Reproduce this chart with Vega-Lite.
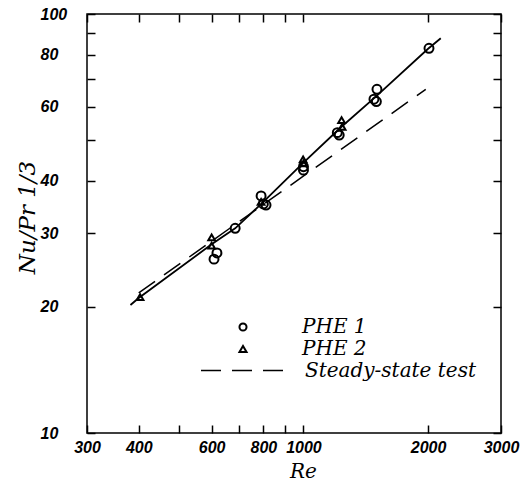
{
  "$schema": "https://vega.github.io/schema/vega-lite/v6.json",
  "width": 414,
  "height": 419,
  "autosize": "none",
  "padding": {"left": 87, "top": 14, "right": 29, "bottom": 48},
  "background": "white",
  "config": {
    "view": {"stroke": "black", "strokeWidth": 1.5},
    "axis": {
      "domain": false,
      "grid": false,
      "tickColor": "black",
      "tickWidth": 1.5,
      "tickSize": -8,
      "labelColor": "black",
      "labelFont": "Liberation Sans",
      "labelFontStyle": "italic",
      "labelFontWeight": "bold",
      "labelFontSize": 16,
      "titleColor": "black",
      "titleFont": "DejaVu Serif",
      "titleFontStyle": "italic",
      "titleFontWeight": "normal",
      "titleFontSize": 20
    },
    "legend": {
      "labelFont": "DejaVu Serif",
      "labelFontStyle": "italic",
      "labelFontSize": 20,
      "labelColor": "black",
      "labelLimit": 400,
      "padding": 0,
      "rowPadding": 2
    }
  },
  "datasets": {
    "pts": [
      {"Re": 2010, "Nu": 82.8, "pset": "PHE 1"},
      {"Re": 1505, "Nu": 66.1, "pset": "PHE 1"},
      {"Re": 1480, "Nu": 62.6, "pset": "PHE 1"},
      {"Re": 1500, "Nu": 61.8, "pset": "PHE 1"},
      {"Re": 1207, "Nu": 52.1, "pset": "PHE 1"},
      {"Re": 1220, "Nu": 51.4, "pset": "PHE 1"},
      {"Re": 1000, "Nu": 43.2, "pset": "PHE 1"},
      {"Re": 1000, "Nu": 42.4, "pset": "PHE 1"},
      {"Re": 790, "Nu": 36.8, "pset": "PHE 1"},
      {"Re": 812, "Nu": 35.0, "pset": "PHE 1"},
      {"Re": 800, "Nu": 35.2, "pset": "PHE 1"},
      {"Re": 684, "Nu": 30.8, "pset": "PHE 1"},
      {"Re": 618, "Nu": 26.9, "pset": "PHE 1"},
      {"Re": 608, "Nu": 26.0, "pset": "PHE 1"},
      {"Re": 403, "Nu": 21.1, "pset": "PHE 2"},
      {"Re": 600, "Nu": 29.3, "pset": "PHE 2"},
      {"Re": 600, "Nu": 28.0, "pset": "PHE 2"},
      {"Re": 790, "Nu": 35.6, "pset": "PHE 2"},
      {"Re": 998, "Nu": 45.0, "pset": "PHE 2"},
      {"Re": 1000, "Nu": 44.0, "pset": "PHE 2"},
      {"Re": 1236, "Nu": 55.8, "pset": "PHE 2"},
      {"Re": 1240, "Nu": 53.8, "pset": "PHE 2"}
    ],
    "fit": [
      {"Re": 382, "Nu": 20.2},
      {"Re": 400, "Nu": 21.0},
      {"Re": 600, "Nu": 28.2},
      {"Re": 684, "Nu": 30.8},
      {"Re": 800, "Nu": 35.6},
      {"Re": 1000, "Nu": 44.2},
      {"Re": 1230, "Nu": 53.6},
      {"Re": 1500, "Nu": 63.7},
      {"Re": 2000, "Nu": 82.6},
      {"Re": 2146, "Nu": 87.5}
    ],
    "steady": [
      {"Re": 400, "Nu": 21.6, "method": "Steady-state test"},
      {"Re": 1974, "Nu": 66.1, "method": "Steady-state test"}
    ]
  },
  "encoding": {
    "x": {
      "field": "Re", "type": "quantitative",
      "scale": {"type": "log", "domain": [300, 3000], "nice": false},
      "axis": null
    },
    "y": {
      "field": "Nu", "type": "quantitative",
      "scale": {"type": "log", "domain": [10, 100], "nice": false},
      "axis": null
    }
  },
  "layer": [
    {
      "data": {"name": "fit"},
      "mark": {"type": "line", "color": "black", "strokeWidth": 1.8},
      "encoding": {
        "x": {
          "field": "Re", "type": "quantitative",
          "scale": {"type": "log", "domain": [300, 3000], "nice": false},
          "axis": {
            "orient": "bottom",
            "title": "Re",
            "values": [300, 400, 500, 600, 700, 800, 900, 1000, 2000, 3000],
            "labelExpr": "indexof([500,700,900], datum.value) >= 0 ? '' : datum.value",
            "labelPadding": 14,
            "labelFlush": false,
            "titleX": 216,
            "titleY": 38,
            "titleBaseline": "middle",
            "titleAlign": "center"
          }
        },
        "y": {
          "field": "Nu", "type": "quantitative",
          "scale": {"type": "log", "domain": [10, 100], "nice": false},
          "axis": {
            "orient": "left",
            "title": "Nu/Pr 1/3",
            "titleFontSize": 23,
            "values": [10, 20, 30, 40, 50, 60, 70, 80, 90, 100],
            "labelExpr": "indexof([50,70,90], datum.value) >= 0 ? '' : datum.value",
            "labelAlign": "left",
            "labelPadding": 55,
            "labelFlush": false,
            "titleX": -60,
            "titleY": 203,
            "titleAngle": 270,
            "titleBaseline": "middle",
            "titleAlign": "center"
          }
        }
      }
    },
    {
      "data": {"name": "fit"},
      "mark": {"type": "line", "opacity": 0},
      "encoding": {
        "x": {
          "field": "Re", "type": "quantitative",
          "axis": {"orient": "top", "title": null, "labels": false,
            "values": [300, 400, 500, 600, 700, 800, 900, 1000, 2000, 3000]}
        },
        "y": {
          "field": "Nu", "type": "quantitative",
          "axis": {"orient": "right", "title": null, "labels": false,
            "values": [10, 20, 30, 40, 50, 60, 70, 80, 90, 100]}
        }
      }
    },
    {
      "data": {"name": "steady"},
      "mark": {"type": "line", "color": "black", "strokeWidth": 1.5},
      "encoding": {
        "strokeDash": {
          "field": "method", "type": "nominal",
          "scale": {"domain": ["Steady-state test"], "range": [[20, 11]]},
          "legend": {
            "orient": "none", "legendX": 113, "legendY": 314,
            "title": null,
            "symbolType": "stroke",
            "symbolSize": 6889,
            "symbolStrokeColor": "black",
            "symbolStrokeWidth": 1.5,
            "labelOffset": 20
          }
        }
      }
    },
    {
      "data": {"name": "pts"},
      "transform": [{"filter": "datum.pset == 'PHE 1'"}],
      "mark": {"type": "point", "filled": false, "color": "black", "strokeWidth": 2, "opacity": 1, "size": 80},
      "encoding": {
        "shape": {
          "field": "pset", "type": "nominal",
          "scale": {"domain": ["PHE 1", "PHE 2"], "range": ["circle", "triangle-up"]},
          "legend": {
            "orient": "none", "legendX": 146, "legendY": 303,
            "title": null,
            "symbolSize": 50,
            "symbolFillColor": "transparent",
            "symbolStrokeColor": "black",
            "symbolStrokeWidth": 2,
            "labelOffset": 49
          }
        }
      }
    },
    {
      "data": {"name": "pts"},
      "transform": [{"filter": "datum.pset == 'PHE 2'"}],
      "mark": {"type": "point", "filled": false, "color": "black", "strokeWidth": 2, "opacity": 1, "size": 45},
      "encoding": {
        "shape": {
          "field": "pset", "type": "nominal"
        }
      }
    }
  ]
}
